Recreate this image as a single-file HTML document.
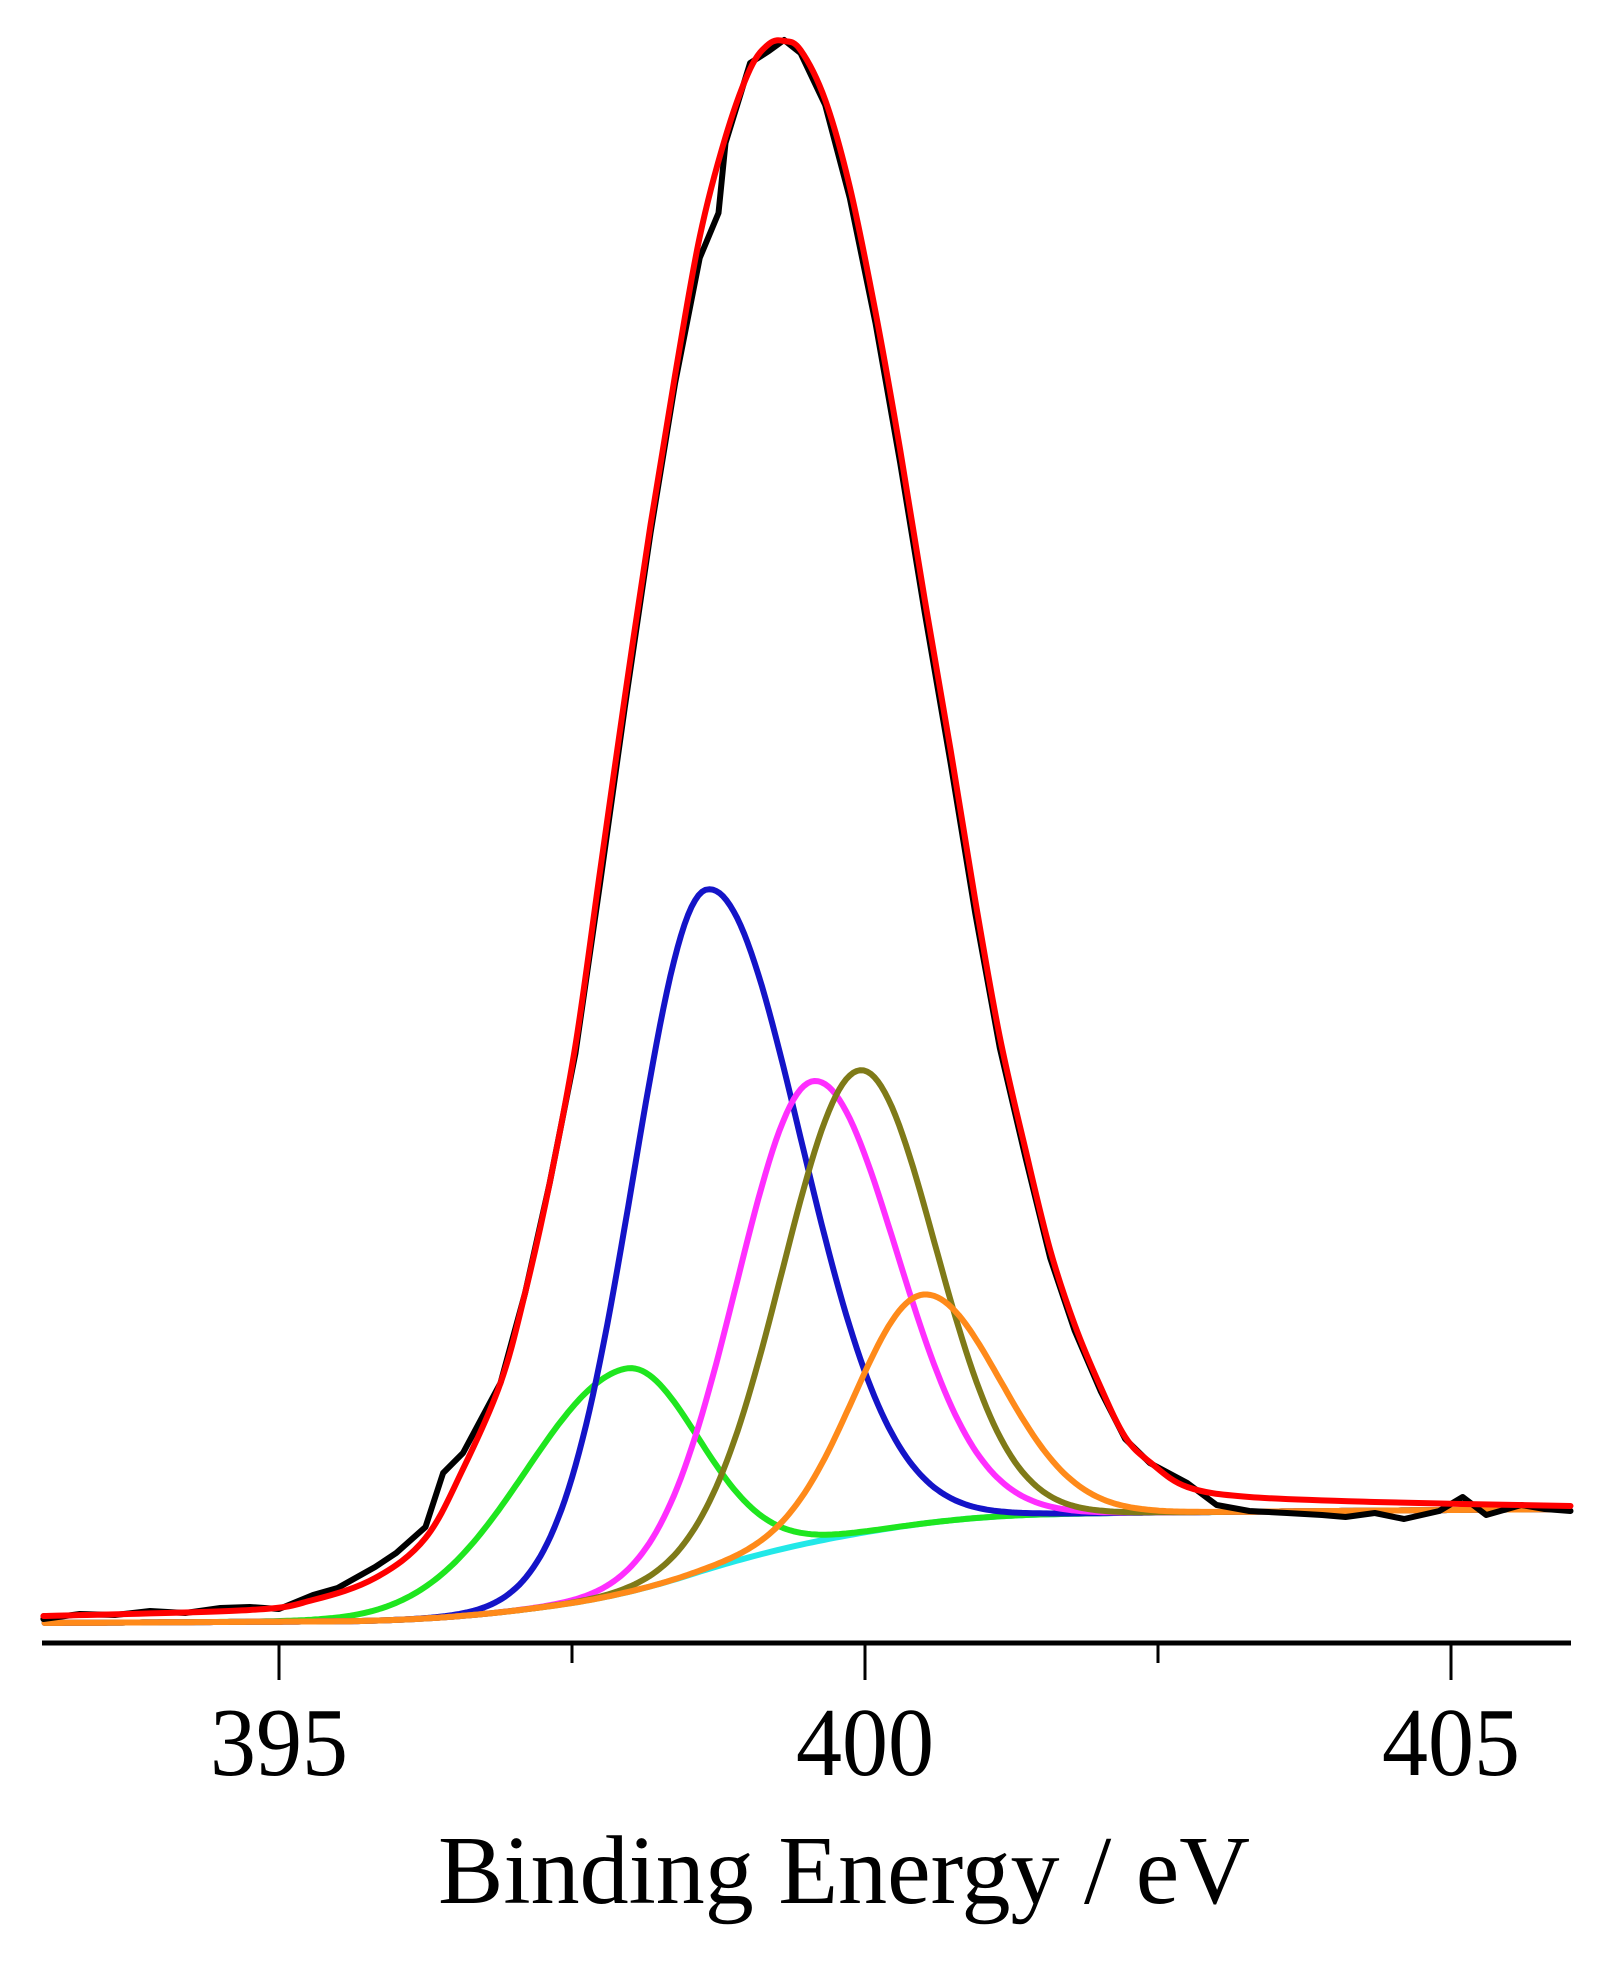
<!DOCTYPE html>
<html><head><meta charset="utf-8"><style>
html,body{margin:0;padding:0;background:#fff;}
svg{display:block;}
text{font-family:"Liberation Serif",serif;fill:#000;}
</style></head><body>
<svg id="chart" width="1613" height="1961" viewBox="0 0 1613 1961" xmlns="http://www.w3.org/2000/svg">
<g id="plot"></g>
<g id="axis"></g>
<text x="438" y="1903" font-size="97" textLength="812" lengthAdjust="spacingAndGlyphs">Binding Energy / eV</text>
</svg>
<script>
// ---- data ----
const envE = [392.99,394.75,395.29,395.82,396.25,396.57,396.89,397.10,397.31,397.53,397.74,397.95,398.17,398.38,398.59,398.81,399.02,399.18,399.31,399.45,399.66,399.87,400.09,400.30,400.51,400.73,400.94,401.15,401.37,401.58,401.79,402.01,402.22,402.43,402.75,403.28,404.35,406.02];
const envI = [7,13,23,45,85,154,240,330,440,578,752,925,1098,1248,1386,1486,1554,1579,1582,1573,1523,1436,1311,1173,1023,873,723,586,473,373,298,236,186,161,136,126,121,117];
const dataE = [392.99,393.3,393.6,393.9,394.2,394.5,394.75,395.0,395.29,395.5,395.82,396.0,396.25,396.4,396.57,396.89,397.10,397.31,397.53,397.74,397.95,398.17,398.38,398.59,398.75,398.81,399.02,399.18,399.31,399.45,399.66,399.87,400.09,400.30,400.51,400.73,400.94,401.15,401.37,401.58,401.79,402.01,402.22,402.43,402.75,403.0,403.28,403.6,403.9,404.1,404.35,404.6,404.9,405.1,405.3,405.6,405.8,406.02];
const dataI = [4,9,8,12,10,15,16,14,28,35,56,70,96,150,170,240,330,440,570,740,915,1090,1240,1365,1410,1480,1560,1572,1583,1570,1518,1425,1300,1160,1010,860,710,575,465,365,292,232,184,160,140,118,112,110,108,106,110,104,112,126,108,118,114,112];
const bgE = [392.99,396,397,398,399,400,401,402,406.02];
const bgI = [0,2,11,29,67,92,107,110,114];
const compNames = ['green','blue','magenta','olive','orange'];
const compColors = ['#1fe61f','#1414c8','#ff2eff','#7f7a18','#ff8a1a'];
const compCenter = [397.95,398.64,399.55,399.95,400.49];
const compHeight = [224,680,461,463,229];
const compSigL = [0.86,0.62,0.64,0.65,0.58];
const compSigR = [0.62,0.80,0.71,0.64,0.65];
const tickMajor = [395,400,405];
const tickMinor = [397.5,402.5];

// ---- scales ----
const x = e => 279 + (e - 395) * 117.2;
const y = v => 1623 - v;
const NS = 'http://www.w3.org/2000/svg';
const plot = document.getElementById('plot');
const axis = document.getElementById('axis');

function bgLin(e){
  if (e <= bgE[0]) return bgI[0];
  for (let i=1;i<bgE.length;i++){
    if (e <= bgE[i]){
      const t=(e-bgE[i-1])/(bgE[i]-bgE[i-1]);
      return bgI[i-1]+(bgI[i]-bgI[i-1])*t;
    }
  }
  return bgI[bgI.length-1];
}
function bg(e){
  let s=0,n=0;
  for(let d=-0.5;d<=0.5001;d+=0.05){s+=bgLin(e+d);n++;}
  return s/n;
}
function pathFrom(pts){
  return pts.map((p,i)=>(i?'L':'M')+p[0].toFixed(1)+' '+p[1].toFixed(1)).join(' ');
}
function smoothPath(xs, ys){
  let d='M'+x(xs[0]).toFixed(1)+' '+y(ys[0]).toFixed(1);
  for(let i=0;i<xs.length-1;i++){
    const p0=[x(xs[Math.max(0,i-1)]),y(ys[Math.max(0,i-1)])];
    const p1=[x(xs[i]),y(ys[i])];
    const p2=[x(xs[i+1]),y(ys[i+1])];
    const p3=[x(xs[Math.min(xs.length-1,i+2)]),y(ys[Math.min(xs.length-1,i+2)])];
    const c1=[p1[0]+(p2[0]-p0[0])/6,p1[1]+(p2[1]-p0[1])/6];
    const c2=[p2[0]-(p3[0]-p1[0])/6,p2[1]-(p3[1]-p1[1])/6];
    d+=' C'+c1[0].toFixed(1)+' '+c1[1].toFixed(1)+' '+c2[0].toFixed(1)+' '+c2[1].toFixed(1)+' '+p2[0].toFixed(1)+' '+p2[1].toFixed(1);
  }
  return d;
}
function addPath(d,color,w,name){
  const p=document.createElementNS(NS,'path');
  p.setAttribute('d',d);
  p.setAttribute('fill','none');
  p.setAttribute('stroke',color);
  p.setAttribute('stroke-width',w);
  p.setAttribute('stroke-linejoin','round');
  p.setAttribute('stroke-linecap','round');
  
  
  plot.appendChild(p);
}

// background (cyan)
const bgPts=[];
for(let e=393.0;e<=406.0;e+=0.05) bgPts.push([x(e),y(bg(e))]);
addPath(pathFrom(bgPts),'#22e8e8',6,'background-line');

// components
for(let k=0;k<compCenter.length;k++){
  const pts=[];
  for(let e=393.0;e<=406.0;e+=0.03){
    const s=e<compCenter[k]?compSigL[k]:compSigR[k];
    const v=bg(e)+compHeight[k]*Math.exp(-Math.pow(e-compCenter[k],2)/(2*s*s));
    pts.push([x(e),y(v)]);
  }
  addPath(pathFrom(pts),compColors[k],6,'component-'+compNames[k]);
}
// raw data (black)
addPath(pathFrom(dataE.map((e,i)=>[x(e),y(dataI[i])])),'#000',6,'experimental-data');
// fit envelope (red)
addPath(smoothPath(envE,envI),'#ff0000',6,'fit-envelope');

// axis
function line(x1,y1,x2,y2,w,name){
  const l=document.createElementNS(NS,'line');
  l.setAttribute('x1',x1);l.setAttribute('y1',y1);l.setAttribute('x2',x2);l.setAttribute('y2',y2);
  l.setAttribute('stroke','#000');l.setAttribute('stroke-width',w);
  
  
  axis.appendChild(l);
}
line(42,1643,1571,1643,5,'x-axis-line');
tickMajor.forEach(t=>{
  line(x(t),1643,x(t),1680,3,'major-tick');
  const tx=document.createElementNS(NS,'text');
  tx.setAttribute('x',x(t));
  tx.setAttribute('y',1775);
  tx.setAttribute('font-size','98');
  tx.setAttribute('text-anchor','middle');
  tx.setAttribute('textLength','138');
  tx.setAttribute('lengthAdjust','spacingAndGlyphs');
  
  
  tx.textContent=String(t);
  axis.appendChild(tx);
});
tickMinor.forEach(t=>{
  line(x(t),1643,x(t),1663,3,'minor-tick');
});
</script>
</body></html>
